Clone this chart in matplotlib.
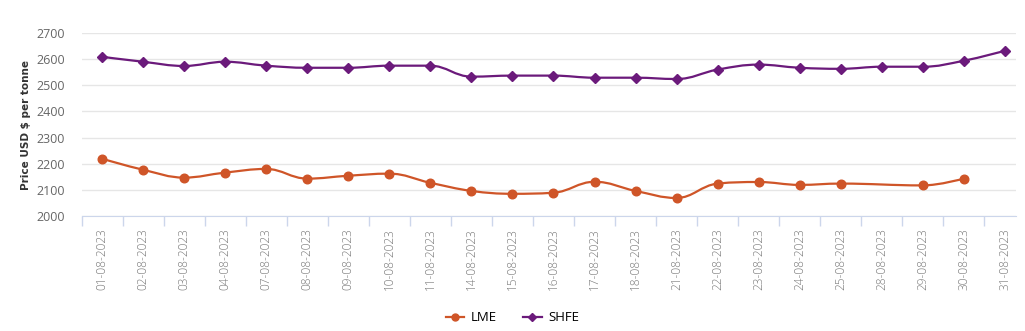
import matplotlib
matplotlib.use("Agg")
import matplotlib.pyplot as plt
from matplotlib.path import Path
from matplotlib.patches import PathPatch
from matplotlib.lines import Line2D

dates = ["01-08-2023", "02-08-2023", "03-08-2023", "04-08-2023", "07-08-2023",
         "08-08-2023", "09-08-2023", "10-08-2023", "11-08-2023", "14-08-2023",
         "15-08-2023", "16-08-2023", "17-08-2023", "18-08-2023", "21-08-2023",
         "22-08-2023", "23-08-2023", "24-08-2023", "25-08-2023", "28-08-2023",
         "29-08-2023", "30-08-2023", "31-08-2023"]
lme = [2219, 2177, 2147, 2166, 2180, 2143, 2154, 2162, 2127, 2096, 2085, 2089,
       2131, 2096, 2069, 2124, 2130, 2119, 2124, None, 2117, 2143, None]
shfe = [2609, 2590, 2574, 2590, 2575, 2567, 2567, 2575, 2575, 2533, 2537, 2537,
        2529, 2529, 2524, 2560, 2579, 2567, 2563, 2571, 2571, 2594, 2632]

LME_C = "#cf5528"
SHFE_C = "#6b1a7b"


def spline_path(xs, ys):
    s = 1.5
    d = s + 1
    n = len(xs)
    lc = [None] * n
    rc = [None] * n
    for i in range(n):
        x, y = xs[i], ys[i]
        if 0 < i < n - 1:
            lx, ly = xs[i - 1], ys[i - 1]
            nx, ny = xs[i + 1], ys[i + 1]
            lcx = (s * x + lx) / d
            lcy = (s * y + ly) / d
            rcx = (s * x + nx) / d
            rcy = (s * y + ny) / d
            corr = ((rcy - lcy) * (rcx - x)) / (rcx - lcx) + y - rcy
            lcy += corr
            rcy += corr
            if lcy > ly and lcy > y:
                lcy = max(ly, y)
                rcy = 2 * y - lcy
            elif lcy < ly and lcy < y:
                lcy = min(ly, y)
                rcy = 2 * y - lcy
            if rcy > ny and rcy > y:
                rcy = max(ny, y)
                lcy = 2 * y - rcy
            elif rcy < ny and rcy < y:
                rcy = min(ny, y)
                lcy = 2 * y - rcy
            lc[i] = (lcx, lcy)
            rc[i] = (rcx, rcy)
        else:
            lc[i] = (x, y)
            rc[i] = (x, y)
    verts = [(xs[0], ys[0])]
    codes = [Path.MOVETO]
    for i in range(1, n):
        verts += [rc[i - 1], lc[i], (xs[i], ys[i])]
        codes += [Path.CURVE4] * 3
    return Path(verts, codes)


fig = plt.figure(figsize=(10.25, 3.31), dpi=100)
ax = fig.add_axes([81.5 / 1025, 1 - 216 / 331, (1016 - 81.5) / 1025, (216 - 33) / 331])

for vals, col, mk, ms in [(lme, LME_C, "o", 6.2), (shfe, SHFE_C, "D", 4.6)]:
    xs = [i for i, v in enumerate(vals) if v is not None]
    ys = [v for v in vals if v is not None]
    ax.add_patch(PathPatch(spline_path(xs, ys), facecolor="none", edgecolor=col,
                           lw=1.6, zorder=3))
    ax.plot(xs, ys, ls="none", marker=mk, ms=ms, color=col, zorder=4)

ax.set_xlim(-0.5, 22.27)
ax.set_ylim(2000, 2700)
ax.set_yticks(range(2000, 2701, 100))
ax.grid(axis="y", color="#e6e6e6", lw=1)
ax.set_axisbelow(True)
for sp in ["top", "right", "left"]:
    ax.spines[sp].set_visible(False)
ax.spines["bottom"].set_color("#ccd6eb")
ax.tick_params(axis="y", length=0, labelsize=9, labelcolor="#666666", pad=12)

ax.set_xticks(range(len(dates)))
spaced = [" ".join(list(d)).replace("- ", "-").replace(" -", "-") for d in dates]
ax.set_xticklabels(dates, rotation=90, fontsize=8.6, color="#777777")
ax.tick_params(axis="x", length=0, pad=9)
ax.set_xticks([i - 0.5 for i in range(len(dates))], minor=True)
ax.tick_params(axis="x", which="minor", length=7, color="#ccd6eb", width=1)
for lab in ax.get_yticklabels():
    lab.set_fontfamily("Open Sans")
for lab in ax.get_xticklabels():
    lab.set_fontfamily("Open Sans")
    lab.set_fontweight("light")

ax.set_ylabel("Price USD $ per tonne", fontsize=7.5, fontweight="bold",
              color="#333333", labelpad=4)

handles = [Line2D([], [], color=LME_C, marker="o", ms=5, lw=1.6),
           Line2D([], [], color=SHFE_C, marker="D", ms=4, lw=1.6)]
fig.legend(handles, ["LME", "SHFE"], loc="center", bbox_to_anchor=(0.5, 0.04),
           ncol=2, frameon=False, handlelength=1.4,
           columnspacing=2.0, handletextpad=0.5,
           prop={"family": "Open Sans", "size": 9.5})

fig.savefig("out.png", dpi=100)
